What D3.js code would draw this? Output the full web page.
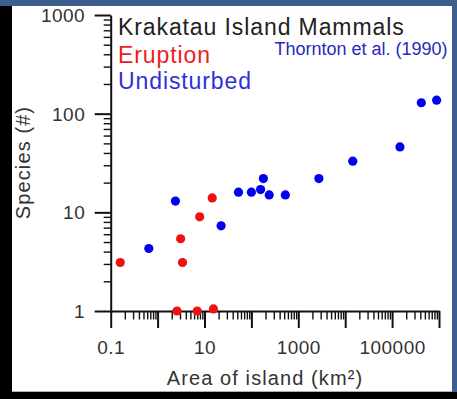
<!DOCTYPE html>
<html>
<head>
<meta charset="utf-8">
<script src="https://cdn.jsdelivr.net/npm/d3@7"></script>
<style>
  html, body { margin: 0; padding: 0; background: #fff; }
  svg { display: block; }
  text { font-family: Arial, "Liberation Sans", sans-serif; }
</style>
</head>
<body>
<svg id="chart" width="457" height="399"></svg>
<script>
// Krakatau island mammals: species count vs. island area
const eruptionArea    = [0.16, 3.1, 3.4, 7.9, 14.6, 2.6, 7.0, 15.5];
const eruptionSpecies = [3.1, 5.4, 3.1, 9.0, 14.0, 1.0, 1.0, 1.05];

const undisturbedArea    = [0.65, 2.4, 22.6, 53, 100, 157, 180, 240, 530, 2750, 14500, 147000, 420000, 890000];
const undisturbedSpecies = [4.3, 13, 7.3, 16, 16, 17, 22, 15, 15, 22, 33, 46, 129, 137];

const xLabelValues = [0.1, 10, 1000, 100000];
const xLabelText   = ["0.1", "10", "1000", "100000"];
const yLabelValues = [1, 10, 100, 1000];
const yLabelText   = ["1", "10", "100", "1000"];

const titleText  = "Krakatau Island Mammals";
const seriesText = ["Eruption", "Undisturbed"];
const sourceText = "Thornton et al. (1990)";
const xAxisTitle = "Area of island (km\u00B2)";
const yAxisTitle = "Species (#)";

const W = 457, H = 399;
const svg = d3.select("#chart");

// slide-style frame
svg.append("rect").attr("width", W).attr("height", H).attr("fill", "#000");
svg.append("rect").attr("x", 0).attr("y", 0).attr("width", W).attr("height", 6).attr("fill", "#3d5f8e");
svg.append("rect").attr("x", 452).attr("y", 0).attr("width", 5).attr("height", 392).attr("fill", "#3d5f8e");
svg.append("rect").attr("x", 12).attr("y", 6).attr("width", 440).attr("height", 385.5).attr("fill", "#fff");
svg.append("line").attr("x1", 12).attr("x2", 452).attr("y1", 391.5).attr("y2", 391.5)
  .attr("stroke", "#b0b0b0").attr("stroke-width", 1);

const x = d3.scaleLog().domain([0.1, 1e6]).range([110.7, 439]);
const y = d3.scaleLog().domain([1, 1000]).range([311, 15]);

// minor tick positions (2..9 within each decade)
const minorX = [];
for (let e = -1; e < 6; e++) for (let m = 2; m <= 9; m++) minorX.push(m * Math.pow(10, e));
const minorY = [];
for (let e = 0; e < 3; e++) for (let m = 2; m <= 9; m++) minorY.push(m * Math.pow(10, e));
const majorX = d3.range(-1, 7).map(e => Math.pow(10, e));
const majorY = d3.range(0, 4).map(e => Math.pow(10, e));

const axisColor = "#111";

// x axis
const gx = svg.append("g").attr("transform", `translate(0,${y(1)})`);
gx.append("g").call(d3.axisBottom(x).tickValues(minorX).tickSize(8.5).tickSizeOuter(0).tickFormat(""))
  .call(g => g.select(".domain").remove())
  .call(g => g.selectAll("line").attr("stroke", axisColor).attr("stroke-width", 1.4));
gx.append("g").call(d3.axisBottom(x).tickValues(majorX).tickSize(17).tickSizeOuter(0).tickFormat(""))
  .call(g => g.select(".domain").attr("stroke", axisColor).attr("stroke-width", 2))
  .call(g => g.selectAll("line").attr("stroke", axisColor).attr("stroke-width", 2));
gx.append("g").call(d3.axisBottom(x).tickValues(xLabelValues).tickSize(0).tickSizeOuter(0)
    .tickFormat((d, i) => xLabelText[i]))
  .call(g => g.select(".domain").remove())
  .call(g => g.selectAll("text").attr("y", 43).attr("dy", 0)
    .attr("font-size", 19).attr("letter-spacing", 0.5).attr("fill", "#333")
    .attr("font-family", "Arial, 'Liberation Sans', sans-serif"));

// y axis
const gy = svg.append("g").attr("transform", `translate(${x(0.1)},0)`);
gy.append("g").call(d3.axisLeft(y).tickValues(minorY).tickSize(7).tickSizeOuter(0).tickFormat(""))
  .call(g => g.select(".domain").remove())
  .call(g => g.selectAll("line").attr("stroke", axisColor).attr("stroke-width", 1.4));
gy.append("g").call(d3.axisLeft(y).tickValues(majorY).tickSize(16).tickSizeOuter(0).tickFormat(""))
  .call(g => g.select(".domain").attr("stroke", axisColor).attr("stroke-width", 2))
  .call(g => g.selectAll("line").attr("stroke", axisColor).attr("stroke-width", 2));
gy.append("g").call(d3.axisLeft(y).tickValues(yLabelValues).tickSize(0).tickSizeOuter(0)
    .tickFormat((d, i) => yLabelText[i]))
  .call(g => g.select(".domain").remove())
  .call(g => g.selectAll("text").attr("x", -25.5).attr("dy", "0.35em")
    .attr("font-size", 19).attr("letter-spacing", 0.5).attr("fill", "#333")
    .attr("font-family", "Arial, 'Liberation Sans', sans-serif"));

// axis titles
svg.append("text").attr("x", 265).attr("y", 385).attr("text-anchor", "middle")
  .attr("font-size", 20).attr("letter-spacing", 1.1).attr("fill", "#333").text(xAxisTitle);
svg.append("text").attr("transform", "translate(30,162.5) rotate(-90)").attr("text-anchor", "middle")
  .attr("font-size", 20).attr("letter-spacing", 1.1).attr("fill", "#333").text(yAxisTitle);

// legend / title block
svg.append("text").attr("x", 118).attr("y", 35).attr("font-size", 23).attr("letter-spacing", 0.9)
  .attr("fill", "#222").text(titleText);
svg.append("text").attr("x", 118).attr("y", 63).attr("font-size", 23).attr("letter-spacing", 0.9)
  .attr("fill", "#ee1c1c").text(seriesText[0]);
svg.append("text").attr("x", 118).attr("y", 89).attr("font-size", 23).attr("letter-spacing", 0.9)
  .attr("fill", "#3030d8").text(seriesText[1]);
svg.append("text").attr("x", 274.5).attr("y", 55).attr("font-size", 18)
  .attr("fill", "#2828c0").text(sourceText);

// points
const eruption = eruptionArea.map((a, i) => ({ a, s: eruptionSpecies[i] }));
const undisturbed = undisturbedArea.map((a, i) => ({ a, s: undisturbedSpecies[i] }));

svg.append("g").selectAll("circle").data(undisturbed).join("circle")
  .attr("cx", d => x(d.a)).attr("cy", d => y(d.s)).attr("r", 4.6).attr("fill", "#0000ee");
svg.append("g").selectAll("circle").data(eruption).join("circle")
  .attr("cx", d => x(d.a)).attr("cy", d => y(d.s)).attr("r", 4.6).attr("fill", "#f01010");
</script>
</body>
</html>
